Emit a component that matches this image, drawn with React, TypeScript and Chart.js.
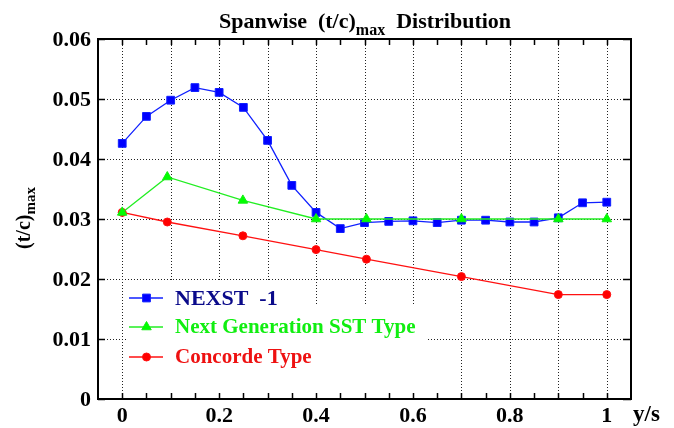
import React, { useEffect, useRef } from "react";
import { Chart, registerables } from "chart.js";
import { drawPoint } from "chart.js/helpers";

Chart.register(...registerables);

// ---- data ----
const nexstX = [0, 0.05, 0.1, 0.15, 0.2, 0.25, 0.3, 0.35, 0.4, 0.45, 0.5, 0.55, 0.6, 0.65, 0.7, 0.75, 0.8, 0.85, 0.9, 0.95, 1.0];
const nexstY = [0.0426, 0.0471, 0.0498, 0.0519, 0.0511, 0.0486, 0.0431, 0.0356, 0.0311, 0.0284, 0.0294, 0.0296, 0.0297, 0.0294, 0.0298, 0.0298, 0.0295, 0.0295, 0.0302, 0.0327, 0.0328];

const nextGenX = [0, 0.093, 0.249, 0.4, 0.504, 0.7, 0.9, 1.0];
const nextGenY = [0.0311, 0.037, 0.0331, 0.03, 0.03, 0.03, 0.03, 0.03];

const concordeX = [0, 0.093, 0.249, 0.4, 0.504, 0.7, 0.9, 1.0];
const concordeY = [0.0311, 0.0295, 0.0272, 0.0249, 0.0233, 0.0204, 0.0174, 0.0174];

const seriesLabels = ["NEXST  -1", "Next Generation SST Type", "Concorde Type"];

const xGridValues = [0, 0.1, 0.2, 0.3, 0.4, 0.5, 0.6, 0.7, 0.8, 0.9, 1.0];
const xMinorTicks = [0, 0.05, 0.1, 0.15, 0.2, 0.25, 0.3, 0.35, 0.4, 0.45, 0.5, 0.55, 0.6, 0.65, 0.7, 0.75, 0.8, 0.85, 0.9, 0.95, 1.0];
const xTickLabels = ["0", "0.2", "0.4", "0.6", "0.8", "1"];
const xTickLabelValues = [0, 0.2, 0.4, 0.6, 0.8, 1.0];
const yTickValues = [0, 0.01, 0.02, 0.03, 0.04, 0.05, 0.06];
const yTickLabels = ["0", "0.01", "0.02", "0.03", "0.04", "0.05", "0.06"];

const FONT = '"Liberation Serif", "Times New Roman", serif';

function toPts(xs: number[], ys: number[]) {
  return xs.map((x, i) => ({ x, y: ys[i] }));
}

function drawRichText(
  ctx: CanvasRenderingContext2D,
  parts: { t: string; size: number; dy: number }[],
  cx: number,
  cy: number
) {
  let total = 0;
  const widths = parts.map((p) => {
    ctx.font = `bold ${p.size}px ${FONT}`;
    const w = ctx.measureText(p.t).width;
    total += w;
    return w;
  });
  let x = cx - total / 2;
  ctx.textAlign = "left";
  ctx.textBaseline = "alphabetic";
  parts.forEach((p, i) => {
    ctx.font = `bold ${p.size}px ${FONT}`;
    ctx.fillText(p.t, x, cy + p.dy);
    x += widths[i];
  });
}

const customPlugin = {
  id: "customDecor",
  beforeDatasetsDraw(chart: any) {
    const { ctx, chartArea } = chart;
    const xs = chart.scales.x;
    const ys = chart.scales.y;
    ctx.save();
    ctx.strokeStyle = "#222";
    ctx.lineWidth = 1;
    ctx.setLineDash([1, 2]);
    xGridValues.forEach((v) => {
      const px = Math.round(xs.getPixelForValue(v)) + 0.5;
      ctx.beginPath();
      ctx.moveTo(px, chartArea.top);
      ctx.lineTo(px, chartArea.bottom);
      ctx.stroke();
    });
    yTickValues.slice(1, -1).forEach((v) => {
      const py = Math.round(ys.getPixelForValue(v)) + 0.5;
      ctx.beginPath();
      ctx.moveTo(chartArea.left, py);
      ctx.lineTo(chartArea.right, py);
      ctx.stroke();
    });
    ctx.setLineDash([]);
    // legend background boxes
    ctx.fillStyle = "#fff";
    ctx.fillRect(126, 280, 174, 27);
    ctx.fillRect(126, 306, 302, chartArea.bottom - 306);
    ctx.restore();
  },
  afterDatasetsDraw(chart: any) {
    const { ctx, chartArea } = chart;
    const xs = chart.scales.x;
    const ys = chart.scales.y;
    ctx.save();
    // frame
    ctx.strokeStyle = "#000";
    ctx.lineWidth = 2;
    ctx.strokeRect(chartArea.left, chartArea.top, chartArea.right - chartArea.left, chartArea.bottom - chartArea.top);
    // ticks
    ctx.lineWidth = 1.5;
    xMinorTicks.forEach((v) => {
      const px = Math.round(xs.getPixelForValue(v)) + 0.5;
      ctx.beginPath();
      ctx.moveTo(px, chartArea.top);
      ctx.lineTo(px, chartArea.top + 6);
      ctx.moveTo(px, chartArea.bottom);
      ctx.lineTo(px, chartArea.bottom - 6);
      ctx.stroke();
    });
    yTickValues.forEach((v) => {
      const py = Math.round(ys.getPixelForValue(v)) + 0.5;
      ctx.beginPath();
      ctx.moveTo(chartArea.left, py);
      ctx.lineTo(chartArea.left + 7, py);
      ctx.moveTo(chartArea.right, py);
      ctx.lineTo(chartArea.right - 8, py);
      ctx.stroke();
    });
    // tick labels
    ctx.fillStyle = "#000";
    ctx.font = `bold 22px ${FONT}`;
    ctx.textAlign = "right";
    ctx.textBaseline = "middle";
    yTickValues.forEach((v, i) => {
      ctx.fillText(yTickLabels[i], chartArea.left - 7, ys.getPixelForValue(v) + 1);
    });
    ctx.textAlign = "center";
    xTickLabelValues.forEach((v, i) => {
      ctx.fillText(xTickLabels[i], xs.getPixelForValue(v), chartArea.bottom + 17);
    });
    ctx.textAlign = "left";
    ctx.font = `bold 23px ${FONT}`;
    ctx.fillText("y/s", 633, chartArea.bottom + 16);
    // title
    drawRichText(
      ctx,
      [
        { t: "Spanwise  (t/c)", size: 22, dy: 0 },
        { t: "max", size: 16, dy: 7 },
        { t: "  Distribution", size: 22, dy: 0 },
      ],
      365,
      28
    );
    // y title
    ctx.save();
    ctx.translate(30, 218);
    ctx.rotate(-Math.PI / 2);
    drawRichText(
      ctx,
      [
        { t: "(t/c)", size: 20, dy: 0 },
        { t: "max", size: 15, dy: 5 },
      ],
      0,
      0
    );
    ctx.restore();
    // legend
    const legendY = [298, 327, 357];
    const textColors = ["#0a0a8a", "#11ee11", "#ee1111"];
    const sizes = [22, 21, 21];
    chart.data.datasets.forEach((ds: any, i: number) => {
      const y = legendY[i];
      ctx.strokeStyle = ds.borderColor;
      ctx.lineWidth = ds.borderWidth;
      ctx.beginPath();
      ctx.moveTo(129, y);
      ctx.lineTo(163, y);
      ctx.stroke();
      ctx.fillStyle = ds.pointBackgroundColor;
      ctx.strokeStyle = ds.pointBorderColor;
      ctx.lineWidth = ds.pointBorderWidth;
      drawPoint(ctx, { pointStyle: ds.pointStyle, radius: ds.pointRadius, rotation: 0, borderWidth: ds.pointBorderWidth }, 146.5, y);
      ctx.fillStyle = textColors[i];
      ctx.font = `bold ${sizes[i]}px ${FONT}`;
      ctx.textAlign = "left";
      ctx.textBaseline = "middle";
      ctx.fillText(ds.label, 175, y + 1);
    });
    ctx.restore();
  },
};

export default function App() {
  const ref = useRef<HTMLCanvasElement>(null);
  useEffect(() => {
    document.body.style.margin = "0";
    const canvas = ref.current!;
    const chart = new Chart(canvas, {
      type: "line",
      data: {
        datasets: [
          {
            label: seriesLabels[0],
            data: toPts(nexstX, nexstY),
            borderColor: "#1020ff",
            backgroundColor: "#0000ff",
            pointBackgroundColor: "#0000ff",
            pointBorderColor: "#1020ff",
            borderWidth: 1.3,
            pointBorderWidth: 1,
            pointStyle: "rect",
            pointRadius: 5.5,
            order: 2,
          },
          {
            label: seriesLabels[1],
            data: toPts(nextGenX, nextGenY),
            borderColor: "#22ee22",
            backgroundColor: "#00ff00",
            pointBackgroundColor: "#00ff00",
            pointBorderColor: "#11ee11",
            borderWidth: 1.3,
            pointBorderWidth: 1,
            pointStyle: "triangle",
            pointRadius: 5.5,
            order: 0,
          },
          {
            label: seriesLabels[2],
            data: toPts(concordeX, concordeY),
            borderColor: "#ff1111",
            backgroundColor: "#ff0000",
            pointBackgroundColor: "#ff0000",
            pointBorderColor: "#ff1111",
            borderWidth: 1.3,
            pointBorderWidth: 1,
            pointStyle: "circle",
            pointRadius: 4,
            order: 1,
          },
        ] as any,
      },
      options: {
        animation: false,
        responsive: false,
        parsing: false as any,
        layout: { padding: { left: 98, top: 39, right: 43, bottom: 29 } },
        scales: {
          x: { type: "linear", min: -0.05, max: 1.05, display: false },
          y: { type: "linear", min: 0, max: 0.06, display: false },
        },
        plugins: {
          legend: { display: false },
          title: { display: false },
          tooltip: { enabled: false },
        },
        elements: { line: { tension: 0 } },
      },
      plugins: [customPlugin],
    });
    return () => chart.destroy();
  }, []);
  return (
    <div style={{ width: 674, height: 428 }}>
      <canvas ref={ref} width={674} height={428} style={{ display: "block", width: 674, height: 428 }} />
    </div>
  );
}
